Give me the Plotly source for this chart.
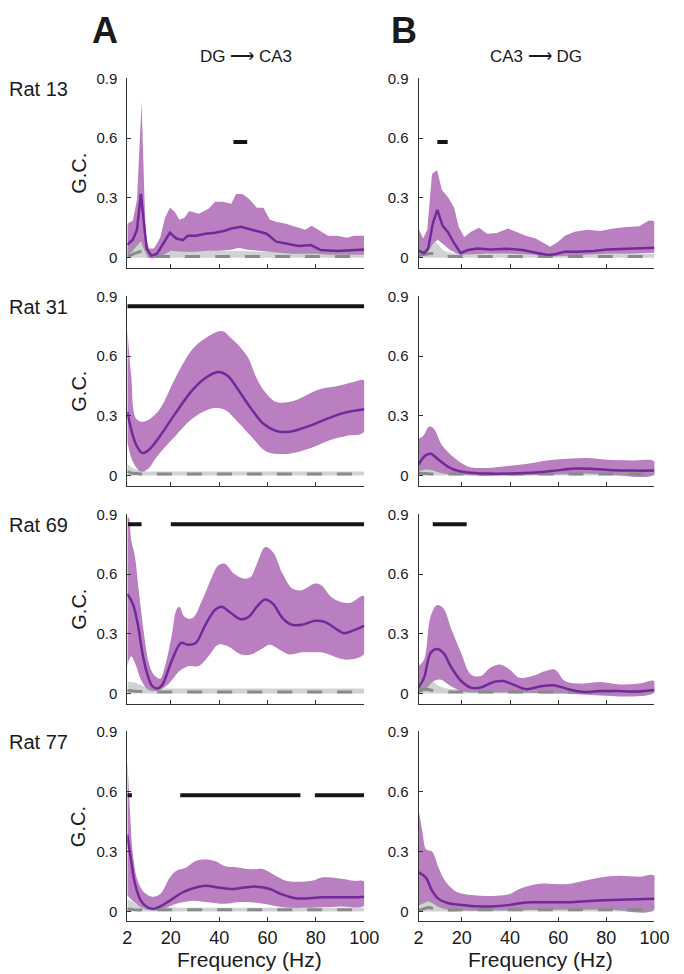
import plotly.graph_objects as go

W, H = 684, 974

# ---------------- data ----------------
# Rat 13, DG -> CA3
a13_f_mean = [2, 4.3, 6, 7.6, 10, 11.9, 14.3, 17, 19.6, 22.3, 25, 27, 30.3, 34.3, 38.3, 42.3, 45, 49,
              51.6, 55.6, 59.6, 63.6, 69, 73, 78, 82, 89, 94, 100]
a13_mean = [0.065, 0.09, 0.14, 0.32, 0.046, 0.01, 0.02, 0.07, 0.125, 0.096, 0.088, 0.11, 0.11, 0.12,
            0.125, 0.135, 0.146, 0.155, 0.146, 0.13, 0.12, 0.08, 0.068, 0.058, 0.063, 0.038, 0.033,
            0.035, 0.041]
a13_f_up = [2, 4.3, 6, 7.9, 9.6, 11, 13, 15.6, 17.6, 19.6, 21.6, 23.6, 25.6, 27.6, 31.6, 35.6, 38.3,
            41.6, 45, 47, 49.6, 52.3, 55.6, 58.3, 61, 63.6, 67.6, 71.6, 75.6, 78.3, 81, 85, 89, 93,
            95.6, 100]
a13_up = [0.17, 0.187, 0.29, 0.78, 0.1, 0.046, 0.046, 0.1, 0.2, 0.25, 0.23, 0.19, 0.2, 0.234, 0.22,
          0.245, 0.28, 0.28, 0.27, 0.32, 0.32, 0.295, 0.25, 0.25, 0.19, 0.18, 0.17, 0.155, 0.14, 0.16,
          0.14, 0.11, 0.11, 0.1, 0.11, 0.11]
a13_f_lo = [2, 4, 6, 7.6, 9, 10.5, 12, 15, 18, 20, 25, 30, 35, 40, 45, 48, 52, 56, 60, 65, 70, 75,
            80, 85, 90, 95, 100]
a13_lo = [0.015, 0.03, 0.06, 0.08, 0.04, 0.0, -0.005, 0.0, 0.02, 0.035, 0.03, 0.03, 0.035, 0.035,
          0.04, 0.05, 0.04, 0.035, 0.03, 0.025, 0.02, 0.02, 0.02, 0.015, 0.015, 0.015, 0.015]
a13_f_null = [2, 4, 6, 8, 10, 12, 20, 40, 60, 80, 100]
a13_null_hi = [0.05, 0.07, 0.08, 0.07, 0.04, 0.035, 0.035, 0.035, 0.03, 0.03, 0.03]
a13_null_mean = [0.008, 0.015, 0.025, 0.03, 0.01, 0.006, 0.006, 0.006, 0.006, 0.006, 0.006]
a13_sig = [(45.9, 51.6)]

# Rat 13, CA3 -> DG
b13_f_mean = [2, 4.3, 6, 7.9, 9.8, 12, 14.1, 16.4, 19.5, 22.4, 26.5, 31.8, 38.6, 45.3, 50.7, 56,
              58.7, 62.8, 68, 74.8, 80.2, 88.3, 95, 100]
b13_mean = [0.035, 0.022, 0.046, 0.17, 0.24, 0.16, 0.13, 0.08, 0.022, 0.038, 0.046, 0.041, 0.045,
            0.038, 0.025, 0.013, 0.017, 0.03, 0.03, 0.033, 0.041, 0.046, 0.05, 0.05]
b13_f_up = [2, 3.9, 5.6, 7.6, 9.7, 11.7, 14.4, 16.8, 18.7, 21, 23.8, 27.1, 30.5, 34.5, 39.2, 42.6,
            46.6, 50.7, 53.3, 56.7, 60, 62.8, 66.8, 72.2, 77.5, 82.9, 88.3, 93.7, 97.7, 100]
b13_up = [0.146, 0.096, 0.14, 0.42, 0.44, 0.34, 0.30, 0.25, 0.154, 0.104, 0.13, 0.15, 0.12, 0.124,
          0.146, 0.13, 0.11, 0.096, 0.08, 0.055, 0.08, 0.11, 0.13, 0.14, 0.134, 0.146, 0.154, 0.158,
          0.187, 0.184]
b13_f_lo = [2, 4, 6, 8, 10, 12, 15, 18, 20, 30, 40, 50, 56, 60, 70, 80, 90, 100]
b13_lo = [0.02, 0.01, 0.03, 0.07, 0.09, 0.07, 0.04, 0.02, 0.015, 0.02, 0.02, 0.015, 0.005, 0.01,
          0.015, 0.02, 0.02, 0.025]
b13_f_null = [2, 4, 6, 8, 10, 12, 15, 20, 100]
b13_null_hi = [0.04, 0.05, 0.07, 0.08, 0.07, 0.04, 0.025, 0.02, 0.02]
b13_null_mean = [0.01, 0.015, 0.02, 0.02, 0.01, 0.006, 0.006, 0.006, 0.006]
b13_sig = [(9.8, 14.1)]

# Rat 31, DG -> CA3
a31_f_mean = [2, 4.3, 6.3, 8.3, 11, 15.6, 22.3, 29, 34.3, 39.6, 43.6, 47.6, 53, 58.3, 63.6, 69,
              74.3, 79.6, 85, 91.6, 100]
a31_mean = [0.32, 0.20, 0.14, 0.113, 0.13, 0.2, 0.32, 0.43, 0.49, 0.52, 0.50, 0.436, 0.34, 0.26,
            0.224, 0.22, 0.237, 0.26, 0.287, 0.315, 0.333]
a31_f_up = [2, 3.6, 5.6, 8.3, 11.6, 15.6, 22.3, 29, 34.3, 41, 45, 51.6, 55.6, 59, 63.6, 70.3, 77,
            82.3, 89, 95.6, 100]
a31_up = [0.735, 0.50, 0.287, 0.27, 0.287, 0.337, 0.50, 0.635, 0.69, 0.726, 0.69, 0.60, 0.486, 0.42,
          0.37, 0.373, 0.41, 0.436, 0.45, 0.47, 0.477]
a31_f_lo = [2, 4.3, 7.6, 10.3, 14.3, 21, 29, 37, 42.3, 47.6, 53, 59.6, 66.3, 73, 79.6, 86.3, 93, 100]
a31_lo = [0.17, 0.07, 0.02, 0.03, 0.096, 0.187, 0.287, 0.337, 0.33, 0.27, 0.2, 0.12, 0.108, 0.12,
          0.146, 0.18, 0.2, 0.22]
a31_f_null = [2, 4, 6, 8, 10, 15, 100]
a31_null_hi = [0.06, 0.04, 0.03, 0.025, 0.02, 0.02, 0.02]
a31_null_mean = [0.02, 0.012, 0.01, 0.008, 0.008, 0.008, 0.008]
a31_sig = [(2, 100)]

# Rat 31, CA3 -> DG
b31_f_mean = [2, 4.7, 7, 10.3, 15.7, 22.4, 30.5, 39.9, 50.7, 58.7, 66.8, 74.8, 82.9, 91, 100]
b31_mean = [0.055, 0.1, 0.11, 0.08, 0.035, 0.015, 0.01, 0.01, 0.015, 0.025, 0.035, 0.033, 0.027,
            0.025, 0.025]
b31_f_up = [2, 4, 6.3, 8.3, 11.7, 17, 22.4, 29.2, 37.2, 46.6, 54.7, 64.1, 72.2, 80.2, 91, 100]
b31_up = [0.185, 0.2, 0.245, 0.237, 0.154, 0.088, 0.046, 0.038, 0.046, 0.058, 0.075, 0.085, 0.088,
          0.08, 0.076, 0.071]
b31_f_lo = [2, 5, 8, 12, 18, 25, 40, 60, 70, 80, 100]
b31_lo = [0.02, 0.03, 0.025, 0.01, 0.005, 0.0, 0.0, 0.005, 0.01, 0.005, 0.005]
b31_f_null = [2, 5, 8, 12, 20, 100]
b31_null_hi = [0.05, 0.04, 0.03, 0.02, 0.02, 0.02]
b31_null_mean = [0.012, 0.01, 0.008, 0.008, 0.008, 0.008]
b31_sig = []

# Rat 69, DG -> CA3
a69_f_mean = [2, 4.3, 6.3, 8.3, 10.3, 12.3, 14.3, 16.3, 18.3, 20.9, 24.3, 27, 30.3, 34.3, 38.3, 41,
              45, 49, 52.3, 55.6, 59, 62.3, 66.3, 70.3, 74.3, 79.6, 83.6, 89, 91.6, 95.6, 100]
a69_mean = [0.50, 0.45, 0.35, 0.2, 0.096, 0.038, 0.025, 0.041, 0.096, 0.18, 0.254, 0.245, 0.254,
            0.345, 0.42, 0.436, 0.403, 0.373, 0.386, 0.436, 0.472, 0.45, 0.378, 0.345, 0.345, 0.365,
            0.36, 0.32, 0.303, 0.317, 0.34]
a69_f_up = [2, 2.7, 3.6, 5, 6.9, 8.9, 10.9, 12.9, 15.6, 17.6, 20.3, 22.3, 23.6, 25.6, 28.9, 33, 37,
            39.6, 42.3, 46.3, 50.3, 53, 55.6, 59, 62.3, 66.3, 70.3, 74.3, 79.6, 82.3, 86.3, 90.3,
            94.3, 100]
a69_up = [0.89, 0.88, 0.77, 0.70, 0.50, 0.30, 0.154, 0.096, 0.075, 0.138, 0.287, 0.42, 0.436, 0.386,
          0.378, 0.47, 0.585, 0.643, 0.652, 0.60, 0.577, 0.585, 0.652, 0.735, 0.71, 0.60, 0.527,
          0.519, 0.552, 0.544, 0.486, 0.46, 0.456, 0.49]
a69_f_lo = [2, 3.6, 5.6, 7.6, 10.3, 13.6, 16.3, 19.6, 23.6, 27.6, 31.6, 35.6, 39.6, 43.6, 49, 53,
            57, 61, 65, 69, 74.3, 79.6, 83.6, 89, 93, 100]
a69_lo = [0.138, 0.187, 0.14, 0.07, 0.022, 0.013, 0.022, 0.055, 0.113, 0.138, 0.138, 0.187, 0.245,
          0.237, 0.196, 0.196, 0.22, 0.245, 0.22, 0.196, 0.207, 0.207, 0.204, 0.18, 0.17, 0.2]
a69_f_null = [2, 5, 8, 10, 13, 20, 100]
a69_null_hi = [0.06, 0.055, 0.04, 0.03, 0.025, 0.025, 0.025]
a69_null_mean = [0.015, 0.012, 0.01, 0.008, 0.008, 0.008, 0.008]
a69_sig = [(2.3, 7.9), (20, 100)]

# Rat 69, CA3 -> DG
b69_f_mean = [2, 4.3, 7, 9.7, 12.3, 15.7, 19.7, 23.8, 27.8, 33.2, 37.2, 41.2, 46.6, 53.3, 58.7,
              64.1, 70.8, 77.5, 84.3, 91, 100]
b69_mean = [0.03, 0.08, 0.204, 0.224, 0.204, 0.13, 0.063, 0.03, 0.03, 0.058, 0.063, 0.046, 0.022,
            0.038, 0.041, 0.022, 0.008, 0.013, 0.013, 0.01, 0.018]
b69_f_up = [2, 4.3, 7, 9.7, 12.3, 15.7, 19.7, 23.8, 27.8, 31.8, 35.9, 39.9, 43.9, 49.3, 54.7, 58.7,
            62.8, 69.5, 77.5, 85.6, 93.7, 100]
b69_up = [0.138, 0.17, 0.386, 0.444, 0.428, 0.32, 0.204, 0.096, 0.088, 0.13, 0.146, 0.12, 0.08,
          0.088, 0.113, 0.12, 0.063, 0.05, 0.058, 0.046, 0.05, 0.063]
b69_f_lo = [2, 5, 8, 11, 15, 20, 25, 40, 60, 100]
b69_lo = [0.0, 0.02, 0.06, 0.07, 0.04, 0.01, 0.005, 0.005, 0.0, 0.005]
b69_f_null = [2, 4, 6, 8, 10, 14, 20, 100]
b69_null_hi = [0.04, 0.06, 0.07, 0.06, 0.04, 0.025, 0.02, 0.02]
b69_null_mean = [0.015, 0.02, 0.02, 0.015, 0.01, 0.008, 0.008, 0.008]
b69_sig = [(7.9, 22)]

# Rat 77, DG -> CA3
a77_f_mean = [2, 3.6, 5.2, 7.6, 10.3, 12.9, 15.6, 19.6, 25, 30.3, 34.3, 39.6, 45, 50.3, 55.6, 61,
              66.3, 71.6, 77, 82.3, 89, 95.6, 100]
a77_mean = [0.384, 0.252, 0.137, 0.054, 0.021, 0.013, 0.025, 0.054, 0.096, 0.12, 0.129, 0.12, 0.112,
            0.12, 0.124, 0.112, 0.084, 0.066, 0.066, 0.071, 0.071, 0.071, 0.074]
a77_f_up = [2, 2.9, 4.3, 6.3, 8.9, 12.3, 15.6, 19.6, 22.3, 26.3, 30.3, 34.3, 38.3, 42.3, 47.6, 53,
            58.3, 62.3, 67.6, 73, 78.3, 82.3, 86.3, 91.6, 95.6, 100]
a77_up = [0.763, 0.55, 0.285, 0.153, 0.096, 0.074, 0.087, 0.17, 0.203, 0.22, 0.252, 0.26, 0.252,
          0.227, 0.22, 0.211, 0.211, 0.186, 0.153, 0.148, 0.153, 0.17, 0.17, 0.162, 0.153, 0.148]
a77_f_lo = [2, 4.9, 8.9, 12.9, 16.9, 22.3, 29, 35.6, 42.3, 47.6, 53, 58.3, 66.3, 74.3, 82.3, 90.3, 100]
a77_lo = [0.08, 0.046, 0.013, 0.005, 0.013, 0.038, 0.054, 0.046, 0.038, 0.046, 0.046, 0.038, 0.021,
          0.018, 0.021, 0.025, 0.03]
a77_f_null = [2, 4, 6, 8, 12, 20, 100]
a77_null_hi = [0.06, 0.05, 0.035, 0.03, 0.025, 0.02, 0.02]
a77_null_mean = [0.012, 0.01, 0.008, 0.008, 0.008, 0.008, 0.008]
a77_sig = [(2, 3.9), (23.9, 73.6), (79.6, 100)]

# Rat 77, CA3 -> DG
b77_f_mean = [2, 5, 7.6, 10.3, 14.4, 19.7, 26.5, 33.2, 39.9, 46.6, 54.7, 64.1, 74.8, 85.6, 100]
b77_mean = [0.195, 0.17, 0.104, 0.063, 0.041, 0.033, 0.026, 0.026, 0.033, 0.045, 0.046, 0.046,
            0.054, 0.058, 0.063]
b77_f_up = [2, 3.6, 5.2, 7.6, 10.3, 13, 17, 21, 27.8, 34.5, 39.9, 43.9, 49.3, 53.3, 58.7, 64.1,
            70.8, 77.5, 85.6, 93.7, 100]
b77_up = [0.508, 0.40, 0.31, 0.30, 0.22, 0.153, 0.104, 0.087, 0.079, 0.079, 0.087, 0.112, 0.132,
          0.14, 0.137, 0.137, 0.153, 0.17, 0.178, 0.173, 0.178]
b77_f_lo = [2, 4, 6, 8, 10, 14, 20, 40, 60, 80, 100]
b77_lo = [0.03, 0.04, 0.05, 0.04, 0.025, 0.01, 0.005, 0.005, 0.008, 0.01, 0.01]
b77_f_null = [2, 4, 6, 8, 10, 14, 20, 100]
b77_null_hi = [0.04, 0.05, 0.06, 0.05, 0.035, 0.025, 0.02, 0.02]
b77_null_mean = [0.005, 0.012, 0.02, 0.015, 0.01, 0.008, 0.008, 0.008]
b77_sig = []

rats = ["Rat 13", "Rat 31", "Rat 69", "Rat 77"]
sig_levels = [0.58, 0.85, 0.85, 0.58]
x_ticks = [2, 20, 40, 60, 80, 100]
y_ticks = [0, 0.3, 0.6, 0.9]
y_ticktext = ["0", "0.3", "0.6", "0.9"]

# panel order: row by row, left (A) then right (B)
panels = [
    (a13_f_mean, a13_mean, a13_f_up, a13_up, a13_f_lo, a13_lo, a13_f_null, a13_null_hi, a13_null_mean, a13_sig, "linear"),
    (b13_f_mean, b13_mean, b13_f_up, b13_up, b13_f_lo, b13_lo, b13_f_null, b13_null_hi, b13_null_mean, b13_sig, "linear"),
    (a31_f_mean, a31_mean, a31_f_up, a31_up, a31_f_lo, a31_lo, a31_f_null, a31_null_hi, a31_null_mean, a31_sig, "spline"),
    (b31_f_mean, b31_mean, b31_f_up, b31_up, b31_f_lo, b31_lo, b31_f_null, b31_null_hi, b31_null_mean, b31_sig, "spline"),
    (a69_f_mean, a69_mean, a69_f_up, a69_up, a69_f_lo, a69_lo, a69_f_null, a69_null_hi, a69_null_mean, a69_sig, "spline"),
    (b69_f_mean, b69_mean, b69_f_up, b69_up, b69_f_lo, b69_lo, b69_f_null, b69_null_hi, b69_null_mean, b69_sig, "spline"),
    (a77_f_mean, a77_mean, a77_f_up, a77_up, a77_f_lo, a77_lo, a77_f_null, a77_null_hi, a77_null_mean, a77_sig, "spline"),
    (b77_f_mean, b77_mean, b77_f_up, b77_up, b77_f_lo, b77_lo, b77_f_null, b77_null_hi, b77_null_mean, b77_sig, "spline"),
]

# ---------------- styling ----------------
FONT = "Liberation Sans, Arial, Helvetica, sans-serif"
FILL = "#b97fc1"
LINE = "#74299a"
NULL_FILL = "rgba(150,158,158,0.45)"
NULL_LINE = "#8a8a8a"
AXIS = "#333333"

col_px = [(126, 370), (426, 669)]
row_px = [(70, 261), (290, 481), (510, 701), (729, 921)]


def px_x(x):
    return x / W


def px_y(y):
    return 1 - y / H


fig = go.Figure()
layout = {}

for i, (fm, m, fu, u, fl, lo, fn, nh, nm, sig, shape) in enumerate(panels):
    r, c = divmod(i, 2)
    n = i + 1
    xa, ya = f"x{n}", f"y{n}"

    # purple confidence band (upper edge then lower edge reversed)
    fig.add_trace(go.Scatter(
        x=fu + fl[::-1], y=u + lo[::-1], fill="toself", fillcolor=FILL,
        line=dict(width=0, shape=shape), mode="lines", xaxis=xa, yaxis=ya, hoverinfo="skip",
    ))
    # shuffled / null band
    fig.add_trace(go.Scatter(
        x=fn, y=nh, fill="tozeroy", fillcolor=NULL_FILL,
        line=dict(width=0, shape="spline"), mode="lines", xaxis=xa, yaxis=ya, hoverinfo="skip",
    ))
    fig.add_trace(go.Scatter(
        x=fn, y=nm, mode="lines", line=dict(color=NULL_LINE, width=3, dash="15px,15px", shape="spline"),
        xaxis=xa, yaxis=ya,
    ))
    # mean G.C.
    fig.add_trace(go.Scatter(
        x=fm, y=m, mode="lines", line=dict(color=LINE, width=2.5, shape=shape),
        xaxis=xa, yaxis=ya,
    ))
    # significance bars
    for s0, s1 in sig:
        fig.add_trace(go.Scatter(
            x=[s0, s1], y=[sig_levels[r]] * 2, mode="lines",
            line=dict(color="#151515", width=4), xaxis=xa, yaxis=ya,
        ))

    x0, x1 = col_px[c]
    y0, y1 = row_px[r]
    bottom = r == 3
    layout[f"xaxis{n}"] = dict(
        domain=[px_x(x0), px_x(x1)], anchor=ya, range=[2, 100],
        showline=True, linecolor=AXIS, linewidth=1, showgrid=False, zeroline=False,
        ticks="inside", ticklen=4, tickcolor=AXIS, tickvals=x_ticks,
        showticklabels=bottom, tickfont=dict(size=18, color="#1a1a1a", family=FONT),
        ticklabelstandoff=0,
    )
    layout[f"yaxis{n}"] = dict(
        domain=[px_y(y1), px_y(y0)], anchor=xa, range=[-0.05, 0.9],
        showline=True, linecolor=AXIS, linewidth=1, showgrid=False, zeroline=False,
        ticks="inside", ticklen=4, tickcolor=AXIS, tickvals=y_ticks, ticktext=y_ticktext,
        tickfont=dict(size=15, color="#1a1a1a", family=FONT), ticklabelstandoff=6,
    )

ann = []
ann.append(dict(text="<b>A</b>", x=px_x(103), y=px_y(22), font=dict(size=36)))
ann.append(dict(text="<b>B</b>", x=px_x(411), y=px_y(22), font=dict(size=36)))
ann.append(dict(text="DG \u27f6 CA3", x=px_x(248), y=px_y(48), font=dict(size=17)))
ann.append(dict(text="CA3 \u27f6 DG", x=px_x(547), y=px_y(48), font=dict(size=17)))
for r, name in enumerate(rats):
    top = row_px[r][0]
    ann.append(dict(text=name, x=0.003, xanchor="left", y=px_y(top + 11), font=dict(size=20)))
    mid = (row_px[r][0] + row_px[r][1]) / 2
    ann.append(dict(text="G.C.", x=px_x(76), y=px_y(mid), textangle=-90, font=dict(size=20)))
for c in range(2):
    cx = (col_px[c][0] + col_px[c][1]) / 2 + 4
    ann.append(dict(text="Frequency (Hz)", x=px_x(cx), y=px_y(959), font=dict(size=21)))

for a in ann:
    a.setdefault("xanchor", "center")
    a.update(xref="paper", yref="paper", showarrow=False, yanchor="middle")
    a["font"].update(family=FONT, color="#1a1a1a")

fig.update_layout(
    width=W, height=H, margin=dict(l=0, r=0, t=0, b=0),
    plot_bgcolor="white", paper_bgcolor="white", showlegend=False,
    annotations=ann, **layout,
)

# the page's default body margin would shift the figure; remove it
fig.write_html(
    "out.html",
    config={"displayModeBar": False},
    post_script="document.body.style.margin='0px';document.body.style.overflow='hidden';",
)
